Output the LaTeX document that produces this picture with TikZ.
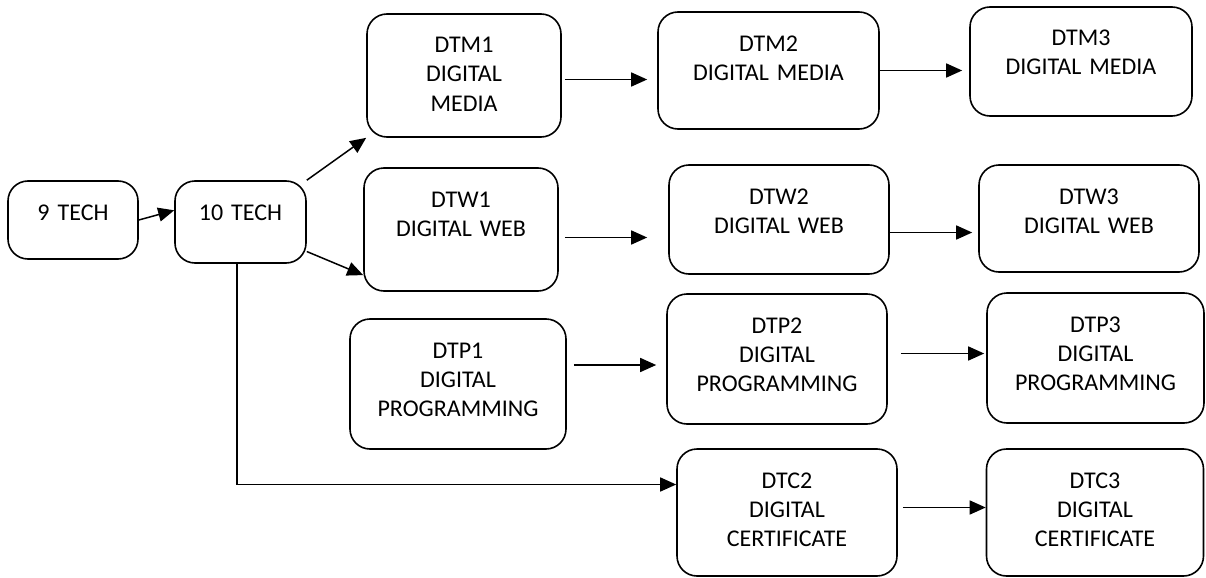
\documentclass[tikz,border=0pt]{standalone}
\usepackage{fontspec}
\setmainfont{Carlito}
\usetikzlibrary{arrows.meta}

\begin{document}
\begin{tikzpicture}[x=0.5pt, y=-0.5pt,
    blk/.style={draw, rounded corners=10pt, line width=0.8pt, inner sep=0pt,
      align=center, font=\fontsize{12}{14.5}\selectfont, text height=19.5pt},
    arr/.style={-{Triangle[length=8pt,width=7pt]}, line width=0.75pt}]
  \useasboundingbox (0,0) rectangle (1206,578);

  \node[blk, text width=65pt, text depth=19.5pt] (t9) at (73,220) {9 TECH};
  \node[blk, text width=65.5pt, text depth=21.5pt] (t10) at (240.5,222) {10 TECH};

  \node[blk, text width=97pt, text depth=42pt] (dtm1) at (464,75.5) {DTM1\\DIGITAL\\MEDIA};
  \node[blk, text width=97pt, text depth=42pt] (dtw1) at (461,229.5) {DTW1\\DIGITAL WEB};
  \node[blk, text width=108pt, text depth=45.5pt] (dtp1) at (458,384) {DTP1\\DIGITAL\\PROGRAMMING};

  \node[blk, text width=110.5pt, text depth=39pt] (dtm2) at (768.5,70.5) {DTM2\\DIGITAL MEDIA};
  \node[blk, text width=110pt, text depth=35pt] (dtw2) at (779,219.5) {DTW2\\DIGITAL WEB};
  \node[blk, text width=110pt, text depth=45.5pt] (dtp2) at (777,359) {DTP2\\DIGITAL\\PROGRAMMING};
  \node[blk, text width=110pt, text depth=44pt] (dtc2) at (787,512.5) {DTC2\\DIGITAL\\CERTIFICATE};

  \node[blk, text width=111pt, text depth=35pt] (dtm3) at (1081,61.5) {DTM3\\DIGITAL MEDIA};
  \node[blk, text width=110pt, text depth=34pt] (dtw3) at (1089,218.5) {DTW3\\DIGITAL WEB};
  \node[blk, text width=108.5pt, text depth=45.5pt] (dtp3) at (1095.5,358) {DTP3\\DIGITAL\\PROGRAMMING};
  \node[blk, text width=108.5pt, text depth=44pt] (dtc3) at (1095,512.5) {DTC3\\DIGITAL\\CERTIFICATE};

  \draw[arr] (t9.east) -- (t10.170);
  \draw[arr] (t10.north east) -- (dtm1.south west);
  \draw[arr] (t10.-24) -- (dtw1.205);
  \draw[arr] ([xshift=-1.75pt]t10.south) |- ([yshift=14pt]dtc2.west);

  \draw[arr, shorten <=1.5pt, shorten >=5pt] ([yshift=-2pt]dtm1.east) -- ([yshift=-2pt]dtm1.east -| dtm2.west);
  \draw[arr, shorten <=3pt, shorten >=10.5pt] ([yshift=-4pt]dtw1.east) -- ([yshift=-4pt]dtw1.east -| dtw2.west);
  \draw[arr, shorten <=3.5pt, shorten >=5pt] ([yshift=9.5pt]dtp1.east) -- ([yshift=9.5pt]dtp1.east -| dtp2.west);

  \draw[arr, shorten >=3.5pt] (dtm2.east) -- (dtm2.east -| dtm3.west);
  \draw[arr, shorten >=3pt] ([yshift=-6.5pt]dtw2.east) -- ([yshift=-6.5pt]dtw2.east -| dtw3.west);
  \draw[arr, shorten <=6.5pt, shorten >=1pt] ([yshift=2.75pt]dtp2.east) -- ([yshift=2.75pt]dtp2.east -| dtp3.west);
  \draw[arr, shorten <=2.5pt] ([yshift=2.5pt]dtc2.east) -- ([yshift=2.5pt]dtc2.east -| dtc3.west);
\end{tikzpicture}
\end{document}
